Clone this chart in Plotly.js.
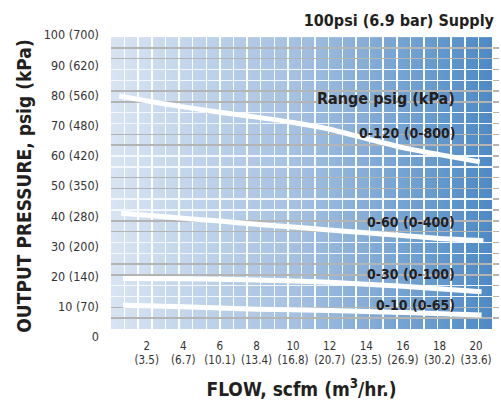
<!DOCTYPE html>
<html>
<head>
<meta charset="utf-8">
<script src="https://cdn.plot.ly/plotly-3.0.1.min.js"></script>
<style>html,body{margin:0;padding:0;background:#fff;}#chart{width:501px;height:400px;}</style>
</head>
<body>
<div id="chart"></div>
<script>
// ---- data ----
const flowTicks = [2, 4, 6, 8, 10, 12, 14, 16, 18, 20];
const flowTicksM3 = ['3.5', '6.7', '10.1', '13.4', '16.8', '20.7', '23.5', '26.9', '30.2', '33.6'];
const psigTicks = [0, 10, 20, 30, 40, 50, 60, 70, 80, 90, 100];
const kpaTicks = ['', '70', '140', '200', '280', '350', '420', '480', '560', '620', '700'];

const rangeNames = ['0-120 (0-800)', '0-60 (0-400)', '0-30 (0-100)', '0-10 (0-65)'];

const flow120 = [0.5, 2, 4, 6, 8, 10, 12, 14, 16, 18, 20.2];
const psig120 = [79.8, 78.2, 76.2, 74.4, 72.8, 71.0, 68.8, 65.7, 62.7, 60.4, 58.0];
const flow60 = [0.6, 2, 4, 6, 8, 10, 12, 14, 16, 18, 20.4];
const psig60 = [41.0, 40.3, 39.3, 38.4, 37.3, 36.4, 35.4, 34.5, 33.6, 32.6, 31.9];
const flow30 = [0.7, 4, 8, 12, 16, 20.3];
const psig30 = [19.4, 19.3, 18.9, 18.1, 16.8, 15.0];
const flow10 = [0.7, 4, 8, 12, 16, 20.3];
const psig10 = [10.5, 10.0, 9.2, 8.8, 8.1, 7.3];

// label anchor positions (layout, not data)
const labelX = 18.96;
const labelY = [67.5, 38.2, 20.9, 10.6];

// ---- style ----
const NARROW = '"Liberation Sans Narrow", "DejaVu Sans Condensed", "Arial Narrow", sans-serif';
const TXT = '#231f20';

const seriesX = [flow120, flow60, flow30, flow10];
const seriesY = [psig120, psig60, psig30, psig10];

const traces = seriesX.map((xs, i) => ({
  type: 'scatter', mode: 'lines', x: xs, y: seriesY[i], name: rangeNames[i],
  line: {color: '#ffffff', width: 5, shape: 'spline', smoothing: 0.6},
  hoverinfo: 'skip', showlegend: false
}));
// helper traces so the grid overlay axes are created
traces.push({type: 'scatter', mode: 'markers', x: [0], y: [0], xaxis: 'x2', yaxis: 'y2',
  marker: {opacity: 0}, hoverinfo: 'skip', showlegend: false});
traces.push({type: 'scatter', mode: 'markers', x: [0], y: [0], xaxis: 'x2', yaxis: 'y3',
  marker: {opacity: 0}, hoverinfo: 'skip', showlegend: false});

// grid line positions for the decorative grid
const vGrid = []; for (let i = 1; i <= 27; i++) vGrid.push(i);
const hGray = [], hWhite = [];
for (let k = 1; k <= 26; k++) { const v = 27 - k; if (k % 4 === 1 || k % 4 === 2) hGray.push(v); else hWhite.push(v); }

const svg = "<svg xmlns='http://www.w3.org/2000/svg' width='381' height='292' viewBox='0 0 381 292' preserveAspectRatio='none'>" +
  "<defs><linearGradient id='g' x1='0' y1='0' x2='1' y2='0'>" +
  "<stop offset='0' stop-color='#d8e4f3'/><stop offset='0.48' stop-color='#a5c1e2'/><stop offset='1' stop-color='#4d8ac5'/>" +
  "</linearGradient></defs><rect width='381' height='292' fill='url(#g)'/></svg>";
const bgSrc = 'data:image/svg+xml;charset=utf-8,' + encodeURIComponent(svg);

const annotations = rangeNames.map((t, i) => ({
  x: labelX, y: labelY[i], xref: 'x', yref: 'y', text: t, showarrow: false,
  xanchor: 'right', yanchor: 'middle', font: {family: NARROW, size: 14, color: TXT, weight: 'bold'}
}));
annotations.push({
  x: labelX, y: 79.1, xref: 'x', yref: 'y', text: 'Range psig (kPa)', showarrow: false,
  xanchor: 'right', yanchor: 'middle', font: {family: NARROW, size: 16, color: TXT, weight: 'bold'}
});

const layout = {
  width: 501, height: 400,
  margin: {l: 111, r: 9, t: 35, b: 63, pad: 0},
  paper_bgcolor: '#ffffff', plot_bgcolor: 'rgba(0,0,0,0)',
  showlegend: false,
  title: {text: '100psi (6.9 bar) Supply', x: 0.986, xanchor: 'right', xref: 'container',
    y: 0.95, yanchor: 'middle', yref: 'container',
    font: {family: NARROW, size: 16, color: TXT, weight: 'bold'}},
  xaxis: {
    range: [0.05, 20.87], showgrid: false, zeroline: false, showline: false,
    tickmode: 'array', tickvals: flowTicks, tickangle: 0,
    ticktext: flowTicks.map((v, i) => v + '<br>(' + flowTicksM3[i] + ')'),
    ticks: '', tickfont: {family: NARROW, size: 11.5, color: '#333'},
    title: {text: 'FLOW, scfm (m<sup>3</sup>/hr.)', standoff: 16,
      font: {family: NARROW, size: 19, color: TXT, weight: 'bold'}}
  },
  yaxis: {
    range: [0, 100], showgrid: false, zeroline: false, showline: false,
    tickmode: 'array', tickvals: psigTicks,
    ticktext: psigTicks.map((v, i) => kpaTicks[i] ? v + ' (' + kpaTicks[i] + ')' : String(v)),
    ticks: '', ticklabelstandoff: 11, tickfont: {family: NARROW, size: 12.5, color: '#333'},
    title: {text: 'OUTPUT PRESSURE, psig (kPa)', standoff: 7,
      font: {family: NARROW, size: 19, color: TXT, weight: 'bold'}}
  },
  xaxis2: {overlaying: 'x', anchor: 'y2', range: [0, 28], showgrid: true, gridcolor: '#ffffff', gridwidth: 1.5,
    tickmode: 'array', tickvals: vGrid, showticklabels: false, ticks: '', zeroline: false, showline: false},
  yaxis2: {overlaying: 'y', anchor: 'x2', side: 'right', range: [-0.74, 27.185], showgrid: true,
    gridcolor: '#b4b4b4', gridwidth: 1.5, tickmode: 'array', tickvals: hGray, showticklabels: false,
    ticks: 'outside', ticklen: 6, tickwidth: 1.5, tickcolor: '#b4b4b4', zeroline: false, showline: false},
  yaxis3: {overlaying: 'y', anchor: 'x2', side: 'right', range: [-0.74, 27.185], showgrid: true,
    gridcolor: '#f4f7fb', gridwidth: 1.5, tickmode: 'array', tickvals: hWhite, showticklabels: false,
    ticks: 'outside', ticklen: 6, tickwidth: 1.5, tickcolor: '#b4b4b4', zeroline: false, showline: false},
  images: [{source: bgSrc, xref: 'x', yref: 'y', x: 0.05, y: 99.3, sizex: 20.82, sizey: 96.65,
    xanchor: 'left', yanchor: 'top', sizing: 'stretch', layer: 'below'}],
  annotations: annotations
};

Plotly.newPlot('chart', traces, layout, {staticPlot: true, displayModeBar: false});
</script>
</body>
</html>
